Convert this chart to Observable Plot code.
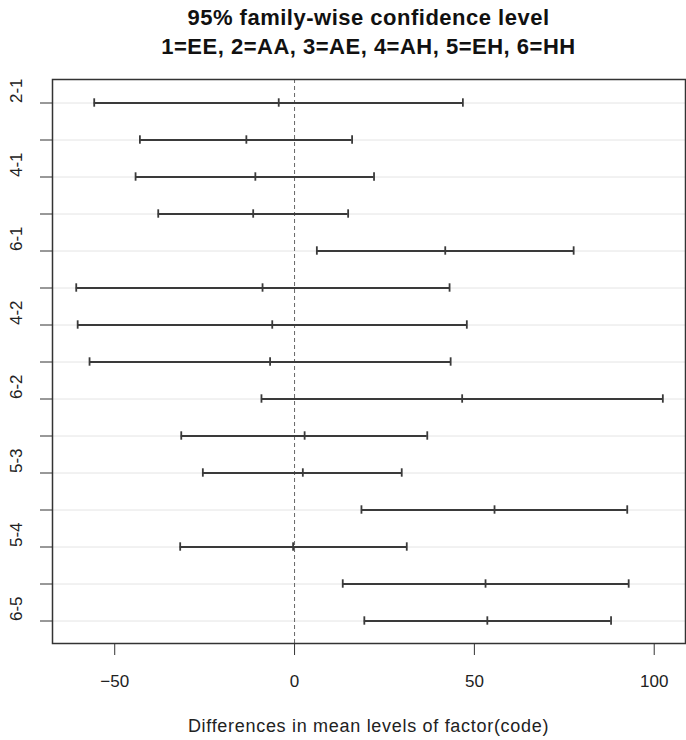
<!DOCTYPE html>
<html>
<head>
<meta charset="utf-8">
<script src="https://cdn.jsdelivr.net/npm/d3@7"></script>
<script src="https://cdn.jsdelivr.net/npm/@observablehq/plot@0.6"></script>
<style>
  html, body { margin: 0; padding: 0; background: #fff; }
  body { width: 686px; height: 740px; position: relative; overflow: hidden;
         font-family: "Liberation Sans", Arial, sans-serif; color: #111; }
  #title { position: absolute; left: 52px; width: 633px; top: 3px; text-align: center;
           font-weight: bold; font-size: 22px; line-height: 29px; letter-spacing: 0.5px; }
  #chart { position: absolute; left: 0; top: 60px; }
  #xlabel { position: absolute; left: 52px; width: 633px; top: 717px; text-align: center;
            font-size: 18px; line-height: 18px; letter-spacing: 0.7px; color: #222; }
</style>
</head>
<body>
<div id="title">95% family-wise confidence level<br>1=EE, 2=AA, 3=AE, 4=AH, 5=EH, 6=HH</div>
<div id="chart"></div>
<div id="xlabel">Differences in mean levels of factor(code)</div>
<script>
const comparisons = ["2-1","3-1","4-1","5-1","6-1","3-2","4-2","5-2","6-2","4-3","5-3","6-3","5-4","6-4","6-5"];
const diffs  = [-4.4, -13.4, -10.9, -11.5, 41.9, -8.9, -6.2, -6.8, 46.6,  2.8,  2.3, 55.6, -0.4, 53.1, 53.6];
const lowers = [-55.7, -43.0, -44.2, -37.9, 6.2, -60.7, -60.3, -57.0, -9.2, -31.5, -25.5, 18.6, -31.8, 13.4, 19.4];
const uppers = [46.8, 16.0, 22.1, 14.9, 77.6, 43.1, 47.9, 43.4, 102.4, 36.9, 29.8, 92.5, 31.2, 92.9, 88.0];
const xTicks = [-50, 0, 50, 100];
const labeledComparisons = ["2-1","4-1","6-1","4-2","6-2","5-3","5-4","6-5"];

const rows = comparisons.map((c, i) => ({comp: c, diff: diffs[i], lwr: lowers[i], upr: uppers[i]}));
const endTicks = rows.flatMap(r => [
  {comp: r.comp, v: r.lwr}, {comp: r.comp, v: r.diff}, {comp: r.comp, v: r.upr}
]);

const lineColor = "#3a3a3a";
const chart = Plot.plot({
  width: 686,
  height: 640,
  marginTop: 19,
  marginLeft: 52,
  marginRight: 1,
  marginBottom: 57,
  x: {domain: [-67.3, 108.7]},
  y: {type: "band", domain: comparisons, padding: 0},
  style: {fontFamily: "'Liberation Sans', Arial, sans-serif", fontSize: "17px", color: "#222", background: "white"},
  marks: [
    Plot.ruleY(comparisons, {y: d => d, stroke: "#e4e4e4", strokeWidth: 1}),
    Plot.ruleX([0], {stroke: "#666", strokeDasharray: "4,3", strokeWidth: 1}),
    Plot.ruleY(rows, {y: "comp", x1: "lwr", x2: "upr", stroke: lineColor, strokeWidth: 1.8}),
    Plot.tickX(endTicks, {x: "v", y: "comp", insetTop: 14.3, insetBottom: 14.3, stroke: lineColor, strokeWidth: 1.8}),
    Plot.axisX(xTicks, {tickSize: 12, tickPadding: 19, label: null, stroke: "#333"}),
    Plot.axisY(comparisons, {tickSize: 12, tickFormat: () => "", label: null, stroke: "#333"}),
    Plot.text(labeledComparisons, {y: d => d, text: d => d, frameAnchor: "left", dx: -36, rotate: -90, fontSize: 17, fill: "#222"}),
    Plot.frame({stroke: "#333", strokeWidth: 1.5})
  ]
});
document.getElementById("chart").appendChild(chart);
</script>
</body>
</html>
